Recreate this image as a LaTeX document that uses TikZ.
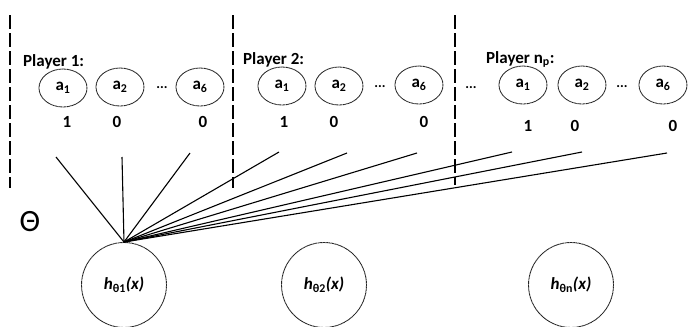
\documentclass[tikz,border=0pt]{standalone}
\usepackage{fontspec}
\setmainfont{Carlito}
\usetikzlibrary{shapes.geometric}
\begin{document}
\begin{tikzpicture}[x=1pt,y=-1pt,
  act/.style={ellipse,draw=black!85,line width=0.9pt,dash pattern=on 1.2pt off 0.4pt,
    minimum width=48pt,minimum height=38pt,inner sep=0pt,font=\fontsize{17}{17}\selectfont\bfseries},
  hyp/.style={circle,draw=black!85,line width=0.9pt,dash pattern=on 1.2pt off 0.4pt,
    minimum size=85pt,inner sep=0pt,font=\fontsize{17}{17}\selectfont\bfseries\itshape},
  plabel/.style={anchor=base west,inner sep=0pt,font=\fontsize{17}{17}\selectfont\bfseries},
  val/.style={inner sep=0pt,font=\fontsize{17}{17}\selectfont\bfseries},
  dots/.style={inner sep=0pt,font=\fontsize{14}{14}\selectfont\bfseries},
  sep/.style={line width=1.8pt,dash pattern=on 14pt off 4pt},
  link/.style={line width=1.1pt}]
\useasboundingbox (0,0) rectangle (689,327);

% separators between players
\draw[sep] (10,15) -- (10,188);
\draw[sep] (233,15) -- (233,188);
\draw[sep] (455,15) -- (455,185);

% player 1
\node[plabel] (pl1) at (23,66) {Player 1:};
\node[act] (p1a1) at (63,88) {a\textsubscript{1}};
\node[act] (p1a2) at (120,87) {a\textsubscript{2}};
\node[dots] (p1d) at (162,88) {...};
\node[act] (p1a6) at (200,87) {a\textsubscript{6}};
\node[val] (p1v1) at (67,122) {1};
\node[val] (p1v2) at (117,122) {0};
\node[val] (p1v6) at (203,122) {0};

% player 2
\node[plabel] (pl2) at (243,64) {Player 2:};
\node[act] (p2a1) at (282,86) {a\textsubscript{1}};
\node[act] (p2a2) at (339,86) {a\textsubscript{2}};
\node[dots] (p2d) at (380,87) {...};
\node[act] (p2a6) at (419,85) {a\textsubscript{6}};
\node[val] (p2v1) at (284,122) {1};
\node[val] (p2v2) at (334,122) {0};
\node[val] (p2v6) at (424,122) {0};

% player n_p
\node[dots] (pnd0) at (471,88) {...};
\node[plabel] (pln) at (486,63) {Player n\textsubscript{p}:};
\node[act] (pna1) at (523,85) {a\textsubscript{1}};
\node[act] (pna2) at (582,85) {a\textsubscript{2}};
\node[dots] (pnd) at (622,87) {...};
\node[act] (pna6) at (663,85) {a\textsubscript{6}};
\node[val] (pnv1) at (528,126) {1};
\node[val] (pnv2) at (575,126) {0};
\node[val] (pnv6) at (673,126) {0};

% parameter symbol
\node[inner sep=0pt,font=\fontsize{31}{31}\selectfont] (theta) at (30,222) {Θ};

% hypothesis units
\node[hyp] (h1) at (124,285) {h\textsubscript{\upshape θ1}(x)};
\node[hyp] (h2) at (324,285) {h\textsubscript{\upshape θ2}(x)};
\node[hyp] (h3) at (571,285) {h\textsubscript{\upshape θn}(x)};

% free ends of the weights
\coordinate (w11) at (56,157);
\coordinate (w12) at (122,157);
\coordinate (w16) at (190,153);
\coordinate (w21) at (279,152);
\coordinate (w22) at (347,153);
\coordinate (w26) at (417,153);
\coordinate (wn1) at (512,152);
\coordinate (wn2) at (582,152);
\coordinate (wn6) at (667,153);

\foreach \w in {w11,w12,w16,w21,w22,w26,wn1,wn2,wn6}
  \draw[link] (h1.north) -- (\w);
\end{tikzpicture}
\end{document}
